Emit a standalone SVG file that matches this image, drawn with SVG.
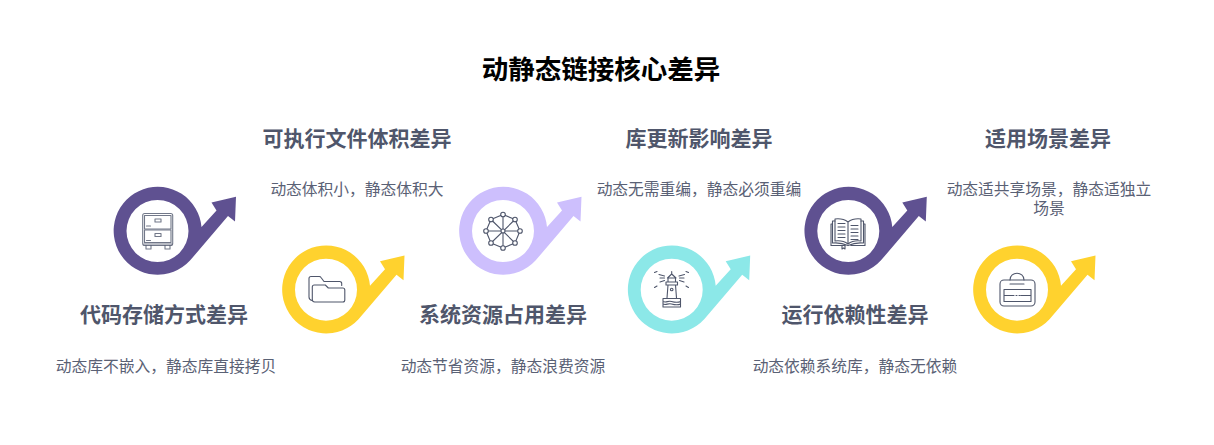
<svg xmlns="http://www.w3.org/2000/svg" width="1214" height="445" viewBox="0 0 1214 445">
<style>
text{font-family:"Noto Sans CJK SC","Noto Sans",sans-serif;text-anchor:middle}
.t{font-size:26.500px;font-weight:700;fill:#000}
.h{font-size:21px;font-weight:700;fill:#4f566b}
.d{font-size:15.750px;fill:#5a6175}
.i{fill:none;stroke:#4f566b;stroke-width:1.100;stroke-linejoin:round;stroke-linecap:round}
.purple{fill:#5f5191}.yellow{fill:#ffd22e}.lilac{fill:#cdbffd}.cyan{fill:#8ce8e8}
</style>
<defs>
<path id="ring" fill-rule="evenodd" d="M44 -4L59 -20.500L54 -28.500L78.500 -34.300L77.500 -9.500L70.500 -15L32.500 29.600A44 44 0 1 1 44 -4ZM31 0A31 31 0 1 0 -31 0A31 31 0 1 0 31 0Z"/>
</defs>
<rect width="1214" height="445" fill="#fff"/>
<text class="t" x="601" y="79">动静态链接核心差异</text>

<g id="connectors"></g>

<g id="node-1">
<use href="#ring" class="purple" transform="translate(157.500 231)"/>
<g class="i" stroke-opacity="0.8">
<rect x="142.700" y="213.500" width="30" height="32" rx="2"/>
<rect x="144.500" y="215.500" width="26.500" height="13.500"/><rect x="144.500" y="230" width="26.500" height="12.500"/>
<rect x="155" y="219" width="6" height="3"/><rect x="155" y="233.500" width="6" height="3"/>
<path d="M146.500 226h4M146.500 240.500h4M146 245.500v3.500h5v-3.500M165 245.500v3.500h5v-3.500M144 244h28"/>
</g>
<text class="h" x="164" y="322">代码存储方式差异</text>
<text class="d" x="166" y="371.500">动态库不嵌入，静态库直接拷贝</text>
</g>

<g id="node-2">
<use href="#ring" class="yellow" transform="translate(326 289.700)"/>
<g class="i">
<path d="M312 300.500C310 300 309 299 309 297V278.500a2 2 0 0 1 2-2h8a2 2 0 0 1 2 1l3 4h15.500a2 2 0 0 1 2.200 2v2"/>
<path d="M312.300 299.500V287a2 2 0 0 1 2-2h11l3 3h14.500a2 2 0 0 1 2 2V300a2 2 0 0 1-2 2h-28a2.500 2.500 0 0 1-2.500-2.500Z"/>
</g>
<text class="h" x="357" y="146">可执行文件体积差异</text>
<text class="d" x="357" y="194.500">动态体积小，静态体积大</text>
</g>

<g id="node-3">
<use href="#ring" class="lilac" transform="translate(503 231)"/>
<g class="i">
<path d="M503 214.500L515 219.500L520 231L515 243L503 248L491 243L486 231L491 219.500ZM503 214.500V248M486 231H520M491 219.500L515 243M515 219.500L491 243"/>
</g>
<g fill="#fff" stroke="#4f566b" stroke-width="1.100">
<circle cx="503" cy="214.500" r="2.300"/><circle cx="515" cy="219.500" r="2.300"/><circle cx="520" cy="231" r="2.300"/><circle cx="515" cy="243" r="2.300"/><circle cx="503" cy="248" r="2.300"/><circle cx="491" cy="243" r="2.300"/><circle cx="486" cy="231" r="2.300"/><circle cx="491" cy="219.500" r="2.300"/><circle cx="503" cy="231" r="2"/>
</g>
<text class="h" x="503" y="322">系统资源占用差异</text>
<text class="d" x="503" y="371.500">动态节省资源，静态浪费资源</text>
</g>

<g id="node-4">
<use href="#ring" class="cyan" transform="translate(671.700 289.700)"/>
<g class="i">
<path d="M667 298L668 285H675.500L676.500 298M666 282h11.500v3h-11.500ZM668 282v-4h7.500v4M667.500 278l4.200-4 4.300 4M671.700 274v-2.500"/>
<circle cx="671.700" cy="289.500" r="1.300"/>
<path d="M663 298.500h17.500M663 298.500v8.500M680.500 298.500v8.500M663 301.500c3 1.500 5-1 8.500 0s6 1.500 9 0M663 304c3 1.500 5-1 8.500 0s6 1.500 9 0M663 307h17.500"/>
<path d="M654.500 272.500l2.500-1M659 274.500l5.500 1.500M660 278h4.500M660 282l4.500-1.500M654.500 287.500l2.500-1.500M688.500 272.500l-2.500-1M684.500 274.500l-5.500 1.500M684 278h-4.500M684 282l-4.500-1.500M688.500 287.500l-2.500-1.500"/>
</g>
<text class="h" x="699" y="146">库更新影响差异</text>
<text class="d" x="699" y="194.500">动态无需重编，静态必须重编</text>
</g>

<g id="node-5">
<use href="#ring" class="purple" transform="translate(848.300 231)"/>
<g class="i">
<path d="M848 222c-4-3-9-3.500-13-3v22c4-.5 9 0 13 3c4-3 9-3.500 13-3V219c-4-.5-9 0-13 3ZM848 222v22"/>
<path d="M835 221h-2.500v22c5-.5 10 0 15.500 2.500c5.500-2.500 10.500-3 15.500-2.500v-22H861M832.500 224H831v21.500H845M863.500 224h1.500v21.500H851"/>
<path d="M838 223.500h7M838 227h7M838 230.500h7M838 234h7M838 237.500h7M851 225.500h7M851 229h7M851 232.500h7M851 236h7M851 239.500h7"/>
<path d="M842 245.500v3.500l1.500-1 1.500 1v-3"/>
</g>
<text class="h" x="855" y="322">运行依赖性差异</text>
<text class="d" x="855" y="371.500">动态依赖系统库，静态无依赖</text>
</g>

<g id="node-6">
<use href="#ring" class="yellow" transform="translate(1017 289.700)"/>
<g class="i">
<rect x="1000" y="280" width="35" height="26" rx="4"/>
<path d="M1010 280c0-9 14-9 14 0M1010 284h14"/>
<path d="M1004 289.500H1031V301.500H1004ZM1004 295.500h10M1021 295.500h10M1016 295.500h1M1019 295.500h1M1014 289.500h2"/>
</g>
<text class="h" x="1048" y="146">适用场景差异</text>
<text class="d"><tspan x="1049" y="194.500">动态适共享场景，静态适独立</tspan><tspan x="1049" y="214">场景</tspan></text>
</g>
</svg>
